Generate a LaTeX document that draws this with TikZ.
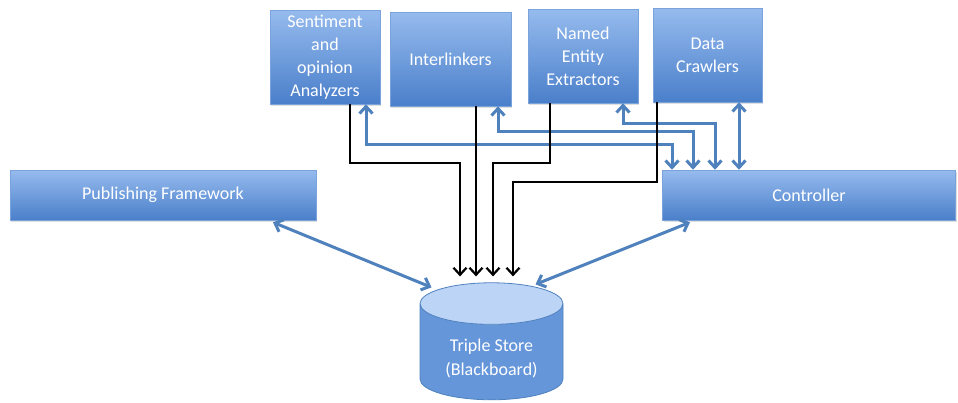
\documentclass[tikz,border=0pt]{standalone}
\usepackage{fontspec}
\setmainfont{Carlito}
\usetikzlibrary{shapes.geometric,arrows.meta,shadows}

\definecolor{boxtop}{HTML}{96BBEE}
\definecolor{boxbot}{HTML}{4A7FCA}
\definecolor{boxline}{HTML}{7AA3DC}
\definecolor{linkblue}{HTML}{4F81BD}
\definecolor{storetop}{HTML}{BCD5F6}
\definecolor{storebody}{HTML}{6596DA}

\tikzset{
  module/.style={draw=boxline, line width=0.6pt, top color=boxtop, bottom color=boxbot,
    text=white, align=center, inner sep=2pt, minimum height=94pt,
    font=\fontsize{18}{23}\selectfont,
    drop shadow={shadow xshift=1pt, shadow yshift=-2pt, opacity=0.25}},
  wide module/.style={module, minimum height=50pt},
  feed/.style={draw=black, line width=2.2pt, -{Straight Barb[length=7pt, width=13pt, line width=2.2pt]}},
  ctrlink/.style={draw=linkblue, line width=3pt,
    {Straight Barb[length=7pt, width=13pt, line width=3pt]}-{Straight Barb[length=7pt, width=13pt, line width=3pt]}},
}

\begin{document}
\begin{tikzpicture}[x=1pt, y=-1pt]
\useasboundingbox (0,0) rectangle (958,402);

% components
\node[module, minimum width=110pt] (sent) at (325,57) {Sentiment\\and\\opinion\\Analyzers};
\node[module, minimum width=121pt] (inter) at (450.5,59) {Interlinkers};
\node[module, minimum width=110pt] (ner) at (583,56) {Named\\Entity\\Extractors};
\node[module, minimum width=109pt] (crawl) at (707.5,55) {Data\\Crawlers};
\node[wide module, minimum width=306pt] (pub) at (163,195) {Publishing Framework};
\node[wide module, minimum width=293pt] (ctrl) at (809,195) {Controller};

% blackboard
\node[shape=cylinder, shape border rotate=90, aspect=0.42, draw=linkblue, line width=0.8pt,
  cylinder uses custom fill, cylinder end fill=storetop, cylinder body fill=storebody,
  minimum width=143pt, minimum height=117pt, text=white, align=center,
  font=\fontsize{18}{24}\selectfont]
  (store) at (491.5,355) {\\[-4pt]Triple Store\\(Blackboard)};

% control links
\draw[ctrlink] ([xshift=41pt]sent.south) -- ++(0,40) -| ([xshift=-137pt]ctrl.north);
\draw[ctrlink] ([xshift=47.5pt]inter.south) -- ++(0,25) -| ([xshift=-116pt]ctrl.north);
\draw[ctrlink] ([xshift=40pt]ner.south) -- ++(0,20) -| ([xshift=-94pt]ctrl.north);
\draw[ctrlink] ([xshift=31.5pt]crawl.south) -- ([xshift=-70pt]ctrl.north);

% data into the store
\draw[feed] ([xshift=25pt]sent.south) -- ++(0,59) -| ([xshift=-31.5pt,yshift=6pt]store.north);
\draw[feed] ([xshift=25.5pt]inter.south) -- ([xshift=-15.5pt,yshift=6pt]store.north);
\draw[feed] ([xshift=-33pt]ner.south) -- ++(0,60) -| ([xshift=1.5pt,yshift=6pt]store.north);
\draw[feed] ([xshift=-50.5pt]crawl.south) -- ++(0,80) -| ([xshift=21.5pt,yshift=6pt]store.north);

% store access
\draw[ctrlink] ([xshift=110pt,yshift=-2pt]pub.south) -- ([xshift=-60pt,yshift=-5pt]store.north);
\draw[ctrlink] ([xshift=-119pt,yshift=-2pt]ctrl.south) -- ([xshift=44pt,yshift=-2pt]store.north);
\end{tikzpicture}
\end{document}
